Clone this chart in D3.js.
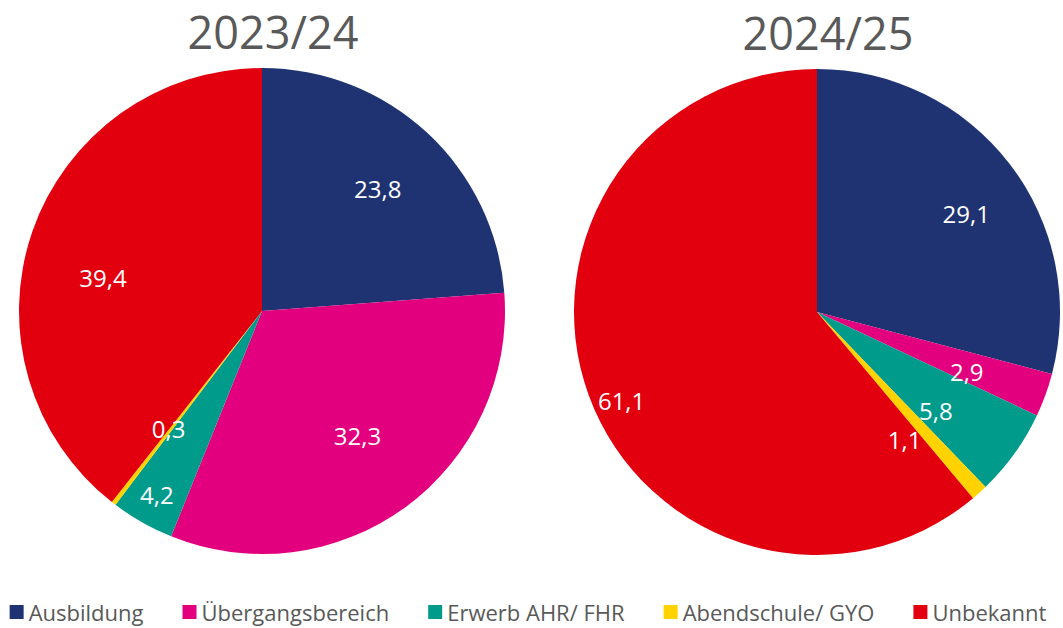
<!DOCTYPE html>
<html lang="de">
<head>
<meta charset="UTF-8">
<title>Verbleib 2023/24 - 2024/25</title>
<script src="https://d3js.org/d3.v7.min.js"></script>
<style>
    body { margin: 0; background: #fff; }
    svg text { font-family: "Open Sans", "DejaVu Sans", sans-serif; }
    .title { fill: #595959; font-size: 45px; text-anchor: middle; }
    .slice-label { fill: #fff; font-size: 24px; text-anchor: middle; dominant-baseline: central; }
    .legend text { fill: #595959; font-size: 22px; }
</style>
</head>
<body>
<svg id="chart" width="1063" height="628"></svg>
<script>
// categories + values (percent)
var categories = ["Ausbildung", "Übergangsbereich", "Erwerb AHR/ FHR", "Abendschule/ GYO", "Unbekannt"];
var colors = ["#1f3372", "#e3007e", "#009b8b", "#ffd200", "#e2000f"];
var years = ["2023/24", "2024/25"];
var values2324 = [23.8, 32.3, 4.2, 0.3, 39.4];
var values2425 = [29.1, 2.9, 5.8, 1.1, 61.1];

var svg = d3.select("#chart");
var color = d3.scaleOrdinal().domain(categories).range(colors);
var fmt = function (v) { return String(v).replace(".", ","); };

// pie layout: keep input order, clockwise from 12 o'clock
var pie = d3.pie().sort(null).value(function (d) { return d.value; });
var radius = 243;
var arc = d3.arc().innerRadius(0).outerRadius(radius);

// label placement tweaks (Excel "best fit" look): radius factor, angle shift in degrees
var labelTweak = {
    "0|Übergangsbereich": { r: 0.64, a: -1.7 },
    "0|Erwerb AHR/ FHR": { r: 0.865, a: 0.5 },
    "0|Abendschule/ GYO": { r: 0.61, a: 1.4 },
    "0|Unbekannt": { r: 0.67, a: -6.6 },
    "1|Ausbildung": { r: 0.74, a: 3.7 },
    "1|Übergangsbereich": { r: 0.66, a: 1 },
    "1|Erwerb AHR/ FHR": { r: 0.63, a: 3.4 },
    "1|Abendschule/ GYO": { r: 0.63, a: 7 },
    "1|Unbekannt": { r: 0.88, a: -4 }
};

var pies = [
    { title: years[0], values: values2324, cx: 262, cy: 311, ty: 48.5 },
    { title: years[1], values: values2425, cx: 817, cy: 312, ty: 50 }
];

pies.forEach(function (p, pi) {
    var data = categories.map(function (c, i) { return { key: c, value: p.values[i] }; });

    svg.append("text")
        .attr("class", "title")
        .attr("x", p.cx + 11)
        .attr("y", p.ty)
        .text(p.title);

    var g = svg.append("g")
        .attr("transform", "translate(" + p.cx + "," + p.cy + ")");

    var slices = pie(data);

    g.selectAll("path")
        .data(slices)
        .enter().append("path")
        .attr("d", arc)
        .attr("fill", function (d) { return color(d.data.key); });

    g.selectAll(".slice-label")
        .data(slices)
        .enter().append("text")
        .attr("class", "slice-label")
        .attr("transform", function (d) {
            var t = labelTweak[pi + "|" + d.data.key] || { r: 0.7, a: 0 };
            var ang = (d.startAngle + d.endAngle) / 2 + t.a * Math.PI / 180;
            var rr = radius * t.r;
            return "translate(" + (Math.sin(ang) * rr) + "," + (-Math.cos(ang) * rr + 2) + ")";
        })
        .text(function (d) { return fmt(d.data.value); });
});

// legend, centred under both pies
var legend = svg.append("g").attr("class", "legend");
var items = legend.selectAll("g")
    .data(categories)
    .enter().append("g");

items.append("rect")
    .attr("width", 14)
    .attr("height", 14)
    .attr("y", 605)
    .attr("fill", function (d) { return color(d); });

items.append("text")
    .attr("x", 19)
    .attr("y", 621)
    .text(function (d) { return d; });

var gap = 39, x = 0, widths = [];
items.each(function () {
    var w = 19 + d3.select(this).select("text").node().getComputedTextLength();
    widths.push(w);
});
var total = d3.sum(widths) + gap * (widths.length - 1);
x = 528 - total / 2;
items.attr("transform", function (d, i) {
    var tx = x;
    x += widths[i] + gap;
    return "translate(" + tx + ",0)";
});
</script>
</body>
</html>
